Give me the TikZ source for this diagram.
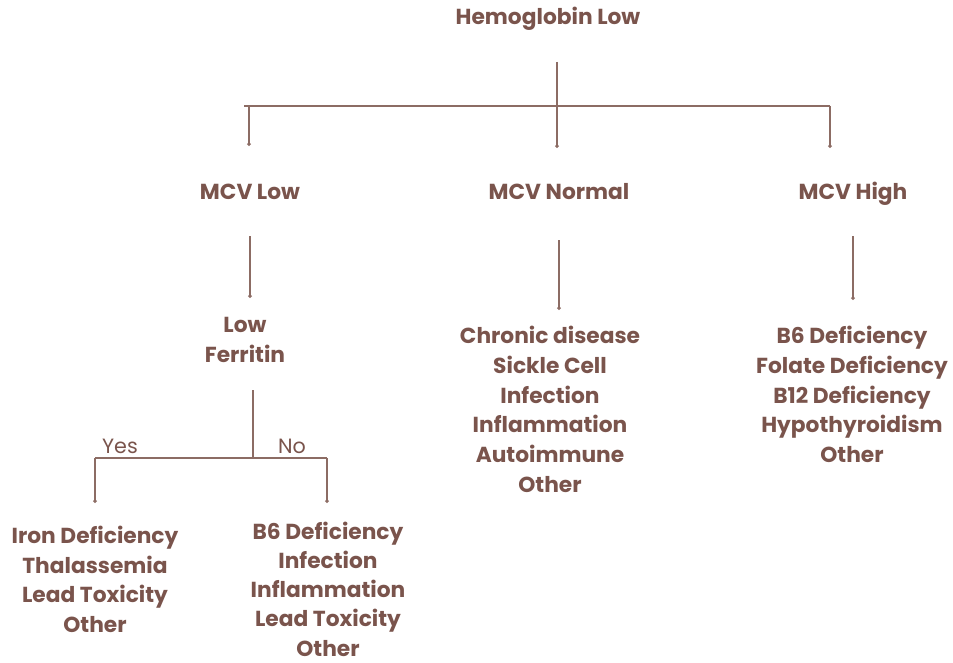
\documentclass[tikz,border=0pt]{standalone}
\usepackage{fontspec}
\setmainfont{Poppins}
\usetikzlibrary{arrows.meta}
\definecolor{cocoa}{RGB}{122,84,76}
\definecolor{twig}{RGB}{140,108,100}
\tikzstyle{label}=[text=cocoa,font=\bfseries\fontsize{16.3}{22.3}\selectfont,align=center,inner sep=0pt]
\tikzstyle{answer}=[text=cocoa,font=\fontsize{15.5}{18}\selectfont,inner sep=0pt]
\tikzstyle{branch}=[draw=twig,line width=0.8pt]
\tikzstyle{edge}=[branch,-{Circle[length=2.8pt]}]

\begin{document}
\begin{tikzpicture}[x=0.75pt,y=-0.75pt]

\useasboundingbox[fill=white] (0,0) rectangle (953,663);

% top level
\node[label] (hb) at (548,19) {Hemoglobin Low};

\foreach \pos/\name/\txt in {{(250,192)/low/MCV Low}, {(559,192)/normal/MCV Normal}, {(853,194)/high/MCV High}}
    \node[label] (\name) at \pos {\txt};

\node[label] (ferritin) at (245,340) {Low\\Ferritin};

\node[label] (irondef) at (95,579.5) {Iron Deficiency\\Thalassemia\\Lead Toxicity\\Other};
\node[label,font=\bfseries\fontsize{16.3}{21.9}\selectfont] (otherdef) at (328,589) {B6 Deficiency\\Infection\\Inflammation\\Lead Toxicity\\Other};
\node[label] (chronic) at (550,409.5) {Chronic disease\\Sickle Cell\\Infection\\Inflammation\\Autoimmune\\Other};
\node[label] (macro) at (852,394.5) {B6 Deficiency\\Folate Deficiency\\B12 Deficiency\\Hypothyroidism\\Other};

% connector ends
\foreach \pos/\name in {{(557,62)/hbfoot}, {(557,148)/hbdot}, {(244,106)/barl}, {(830,106)/barr},
    {(249,106)/lowtop}, {(249,146)/lowdot}, {(830,148)/highdot},
    {(250,236)/lowfoot}, {(250,298)/lowend}, {(559,240)/normfoot}, {(559,310)/normend},
    {(853,236)/highfoot}, {(853,300)/highend},
    {(253,390)/ferfoot}, {(253,458)/fork}, {(95,458)/forkl}, {(327,458)/forkr},
    {(95,503)/yesdot}, {(327,503)/nodot}}
    \path \pos coordinate (\name);

\draw[edge] (hbfoot) -- (hbdot);
\draw[branch] (barl) -- (barr);
\foreach \source/\dest in {lowtop/lowdot, barr/highdot, lowfoot/lowend, normfoot/normend, highfoot/highend, forkl/yesdot, forkr/nodot}
    \draw[edge] (\source) -- (\dest);

\draw[branch] (ferfoot) -- (fork);
\draw[branch] (forkl) -- (forkr);

\node[answer] (yes) at (120,446) {Yes};
\node[answer] (no) at (292,446) {No};

\end{tikzpicture}
\end{document}
